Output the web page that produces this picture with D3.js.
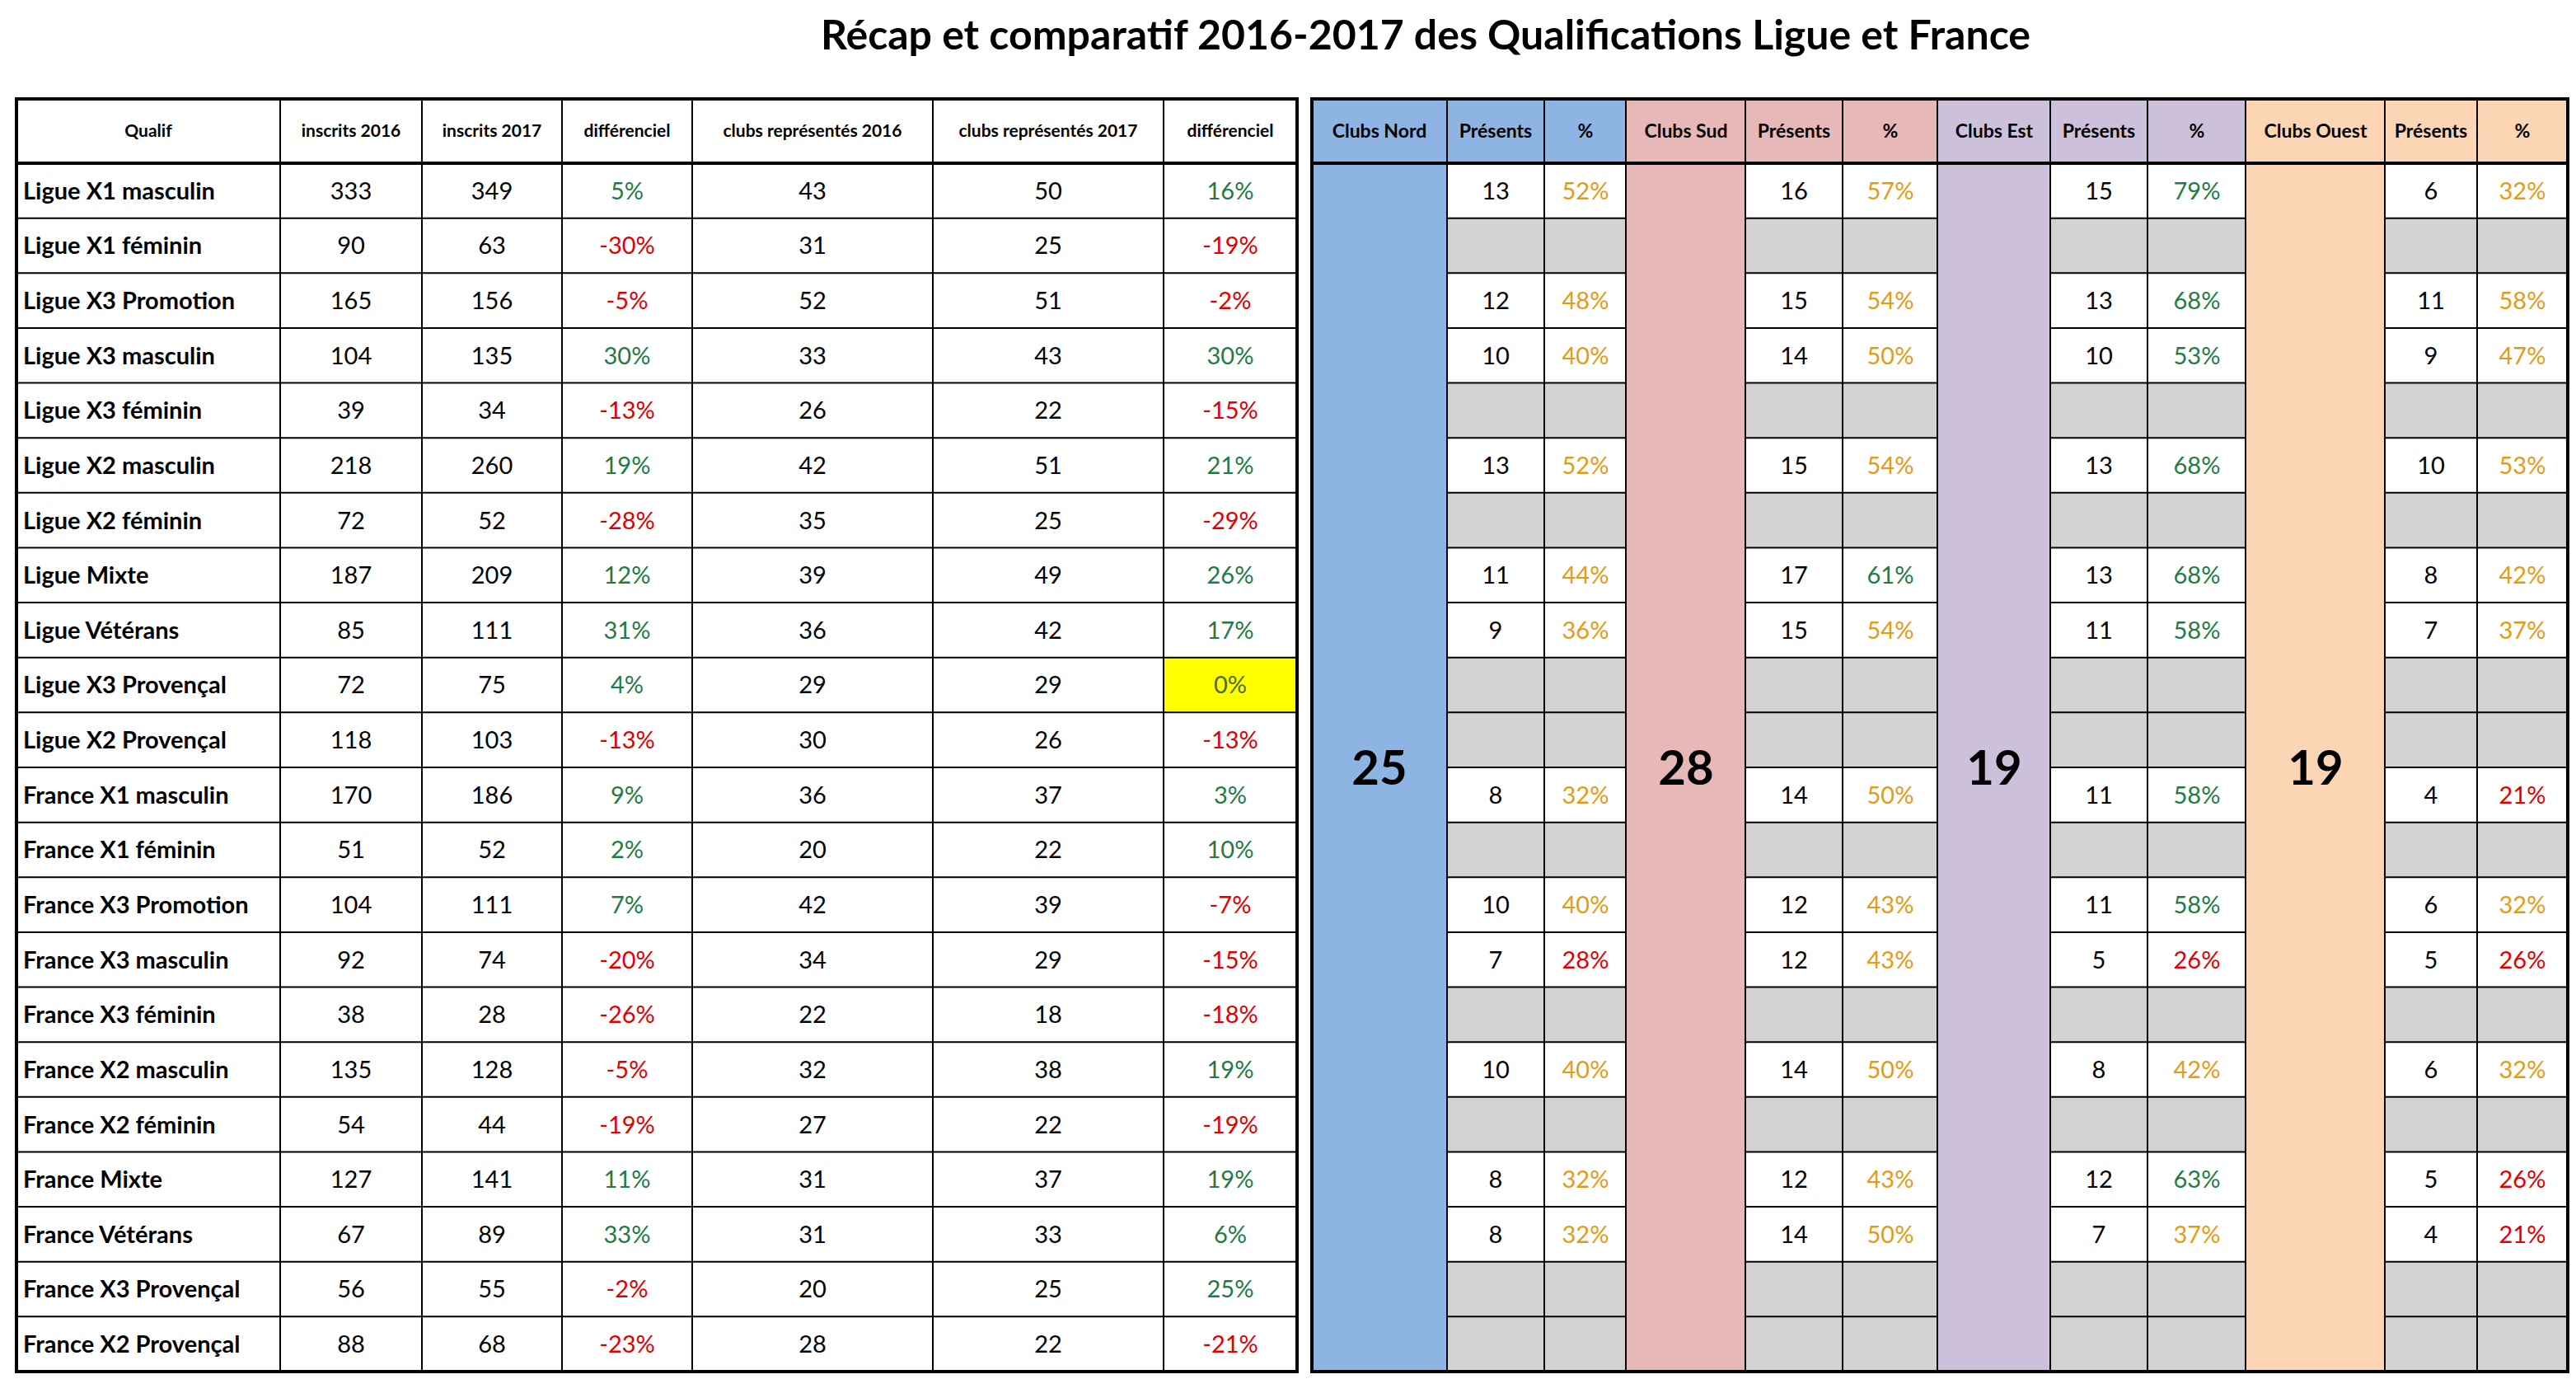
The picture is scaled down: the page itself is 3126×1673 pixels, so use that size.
<!DOCTYPE html>
<html><head><meta charset="utf-8">
<script src="https://cdn.jsdelivr.net/npm/d3@7"></script>
<style>body{margin:0;background:#fff}</style>
</head><body><div id="chart"></div>
<script>
const qualifs = ["Ligue X1 masculin","Ligue X1 féminin","Ligue X3 Promotion","Ligue X3 masculin","Ligue X3 féminin","Ligue X2 masculin","Ligue X2 féminin","Ligue Mixte","Ligue Vétérans","Ligue X3 Provençal","Ligue X2 Provençal","France X1 masculin","France X1 féminin","France X3 Promotion","France X3 masculin","France X3 féminin","France X2 masculin","France X2 féminin","France Mixte","France Vétérans","France X3 Provençal","France X2 Provençal"];
const inscrits2016 = [333,90,165,104,39,218,72,187,85,72,118,170,51,104,92,38,135,54,127,67,56,88];
const inscrits2017 = [349,63,156,135,34,260,52,209,111,75,103,186,52,111,74,28,128,44,141,89,55,68];
const diffInscrits = [5,-30,-5,30,-13,19,-28,12,31,4,-13,9,2,7,-20,-26,-5,-19,11,33,-2,-23];
const clubs2016 = [43,31,52,33,26,42,35,39,36,29,30,36,20,42,34,22,32,27,31,31,20,28];
const clubs2017 = [50,25,51,43,22,51,25,49,42,29,26,37,22,39,29,18,38,22,37,33,25,22];
const diffClubs = [16,-19,-2,30,-15,21,-29,26,17,0,-13,3,10,-7,-15,-18,19,-19,19,6,25,-21];
const regions = ["Clubs Nord","Clubs Sud","Clubs Est","Clubs Ouest"];
const regionTotals = [25,28,19,19];
const presentsNord  = [13,null,12,10,null,13,null,11,9,null,null,8,null,10,7,null,10,null,8,8,null,null];
const presentsSud   = [16,null,15,14,null,15,null,17,15,null,null,14,null,12,12,null,14,null,12,14,null,null];
const presentsEst   = [15,null,13,10,null,13,null,13,11,null,null,11,null,11,5,null,8,null,12,7,null,null];
const presentsOuest = [6,null,11,9,null,10,null,8,7,null,null,4,null,6,5,null,6,null,5,4,null,null];
const presents = [presentsNord, presentsSud, presentsEst, presentsOuest];
const greenFrom = [60,60,50,60];

const W = 3126, H = 1673;
const regionFill = ["#8db4e2","#e6b8b7","#ccc0da","#fcd5b4"];
const GREEN = "#1e7b45", RED = "#e00000", ORANGE = "#e39b12", GREY = "#d2d2d2";
const font = "Lato, 'Open Sans', sans-serif";

const svg = d3.select("#chart").append("svg").attr("width", W).attr("height", H);

svg.append("text").attr("x", 1730).attr("y", 60).attr("text-anchor", "middle")
  .attr("font-family", font).attr("font-weight", 700).attr("font-size", 50)
  .text("Récap et comparatif 2016-2017 des Qualifications Ligue et France");

const tY = 120, headH = 78, bY = 1664;
const y = d3.scaleBand().domain(d3.range(qualifs.length)).range([tY + headH, bY]);

// ---- left table
const leftEdges = [20, 340, 512, 682, 840, 1132, 1412, 1574];
const leftHead = ["Qualif","inscrits 2016","inscrits 2017","différenciel","clubs représentés 2016","clubs représentés 2017","différenciel"];
const cols = [qualifs, inscrits2016, inscrits2017, diffInscrits, clubs2016, clubs2017, diffClubs];
const L = svg.append("g");

leftHead.forEach((h, c) => {
  L.append("text").attr("x", (leftEdges[c] + leftEdges[c+1]) / 2).attr("y", tY + headH/2)
    .attr("dy", "0.35em").attr("text-anchor", "middle").attr("font-family", font)
    .attr("font-weight", 700).attr("font-size", 21).text(h);
});
qualifs.forEach((q, r) => {
  cols.forEach((col, c) => {
    const v = col[r];
    const isDiff = c === 3 || c === 6;
    if (isDiff && v === 0) {
      L.append("rect").attr("x", leftEdges[c]).attr("y", y(r)).attr("width", leftEdges[c+1]-leftEdges[c])
        .attr("height", y.bandwidth()).attr("fill", "#ffff00");
    }
    L.append("text")
      .attr("x", c === 0 ? leftEdges[0] + 8 : (leftEdges[c] + leftEdges[c+1]) / 2)
      .attr("y", y(r) + y.bandwidth()/2).attr("dy", "0.36em")
      .attr("text-anchor", c === 0 ? "start" : "middle")
      .attr("font-family", font).attr("font-size", 29).attr("font-weight", c === 0 ? 700 : 400)
      .attr("fill", isDiff ? (v > 0 ? GREEN : v < 0 ? RED : "#4a6a2a") : "#000")
      .text(isDiff ? v + "%" : v);
  });
});
// grid left
y.domain().forEach(r => L.append("line").attr("x1", leftEdges[0]).attr("x2", leftEdges[7])
  .attr("y1", y(r)).attr("y2", y(r)).attr("stroke", "#000").attr("stroke-width", r === 0 ? 4 : 2));
leftEdges.slice(1, -1).forEach(x => L.append("line").attr("x1", x).attr("x2", x)
  .attr("y1", tY).attr("y2", bY).attr("stroke", "#000").attr("stroke-width", 2));
L.append("rect").attr("x", leftEdges[0]).attr("y", tY).attr("width", leftEdges[7]-leftEdges[0])
  .attr("height", bY - tY).attr("fill", "none").attr("stroke", "#000").attr("stroke-width", 4);

// ---- right table
const rEdges = [1592,1756,1874,1974,2118,2236,2352,2488,2606,2726,2894,3006,3116];
const R = svg.append("g");
regions.forEach((reg, k) => {
  const x0 = rEdges[k*3], x1 = rEdges[k*3+1], x2 = rEdges[k*3+2], x3 = rEdges[k*3+3];
  R.append("rect").attr("x", x0).attr("y", tY).attr("width", x3 - x0).attr("height", headH).attr("fill", regionFill[k]);
  R.append("rect").attr("x", x0).attr("y", tY + headH).attr("width", x1 - x0).attr("height", bY - tY - headH).attr("fill", regionFill[k]);
  [[reg, x0, x1], ["Présents", x1, x2], ["%", x2, x3]].forEach(([t, a, b]) =>
    R.append("text").attr("x", (a+b)/2).attr("y", tY + headH/2).attr("dy", "0.35em").attr("text-anchor", "middle")
      .attr("font-family", font).attr("font-weight", 700).attr("font-size", 23).text(t));
  R.append("text").attr("x", (x0+x1)/2).attr("y", (tY + headH + bY)/2).attr("dy", "0.36em")
    .attr("text-anchor", "middle").attr("font-family", font).attr("font-weight", 700).attr("font-size", 58)
    .text(regionTotals[k]);
  presents[k].forEach((n, r) => {
    R.append("rect").attr("x", x1).attr("y", y(r)).attr("width", x3 - x1).attr("height", y.bandwidth())
      .attr("fill", n == null ? GREY : "#fff");
    if (n == null) return;
    const p = Math.round(n / regionTotals[k] * 100);
    R.append("text").attr("x", (x1+x2)/2).attr("y", y(r) + y.bandwidth()/2).attr("dy", "0.36em")
      .attr("text-anchor", "middle").attr("font-family", font).attr("font-size", 29).text(n);
    R.append("text").attr("x", (x2+x3)/2).attr("y", y(r) + y.bandwidth()/2).attr("dy", "0.36em")
      .attr("text-anchor", "middle").attr("font-family", font).attr("font-size", 29)
      .attr("fill", p < 30 ? RED : p >= greenFrom[k] ? GREEN : ORANGE).text(p + "%");
  });
  y.domain().forEach(r => R.append("line").attr("x1", r === 0 ? x0 : x1).attr("x2", x3)
    .attr("y1", y(r)).attr("y2", y(r)).attr("stroke", "#000").attr("stroke-width", r === 0 ? 4 : 2));
  [x1, x2].forEach(x => R.append("line").attr("x1", x).attr("x2", x).attr("y1", tY).attr("y2", bY)
    .attr("stroke", "#000").attr("stroke-width", 2));
  R.append("line").attr("x1", x3).attr("x2", x3).attr("y1", tY).attr("y2", bY)
    .attr("stroke", "#000").attr("stroke-width", 4);
});
R.append("rect").attr("x", rEdges[0]).attr("y", tY).attr("width", rEdges[12]-rEdges[0])
  .attr("height", bY - tY).attr("fill", "none").attr("stroke", "#000").attr("stroke-width", 4);
</script></body></html>
